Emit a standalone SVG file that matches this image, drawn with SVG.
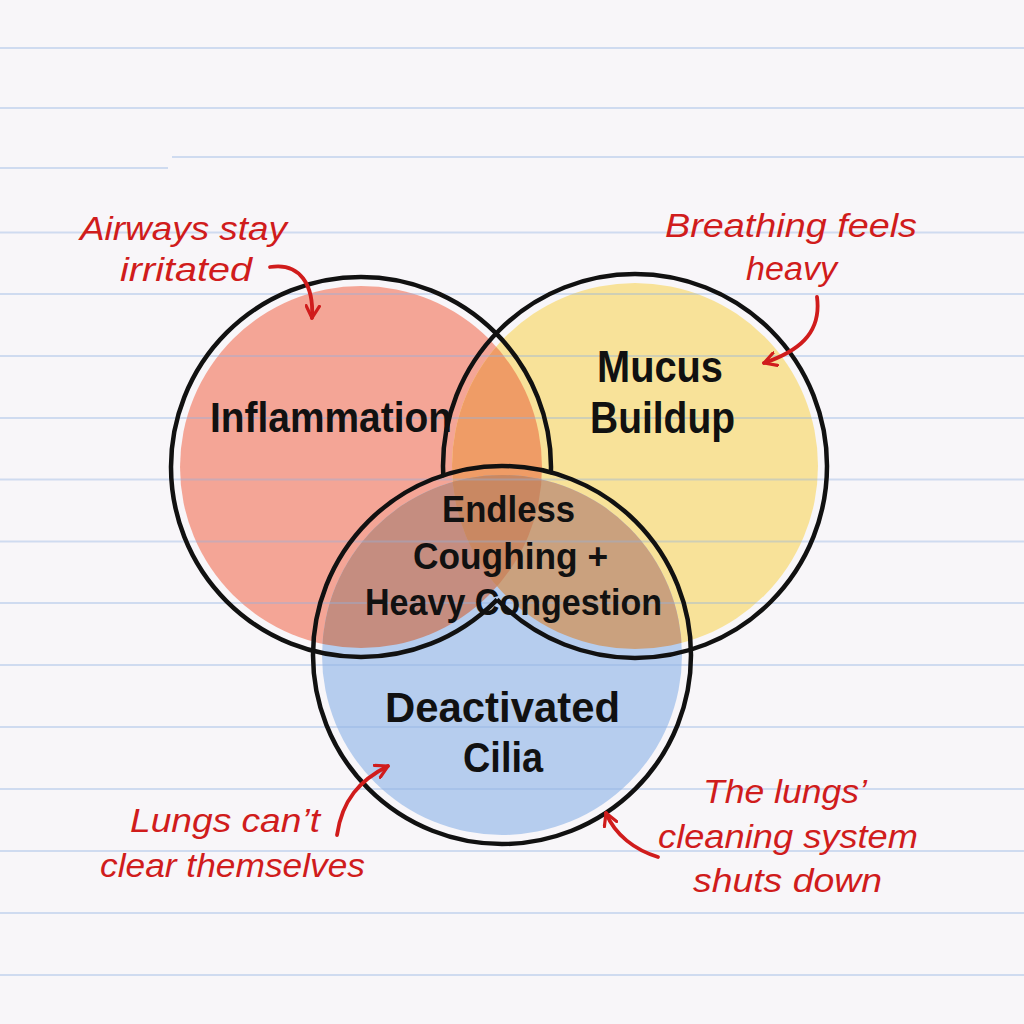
<svg xmlns="http://www.w3.org/2000/svg" width="1024" height="1024" viewBox="0 0 1024 1024">
<style>
.paper{stroke:#8fb2e3;stroke-width:1.8;opacity:0.38}
.outline{fill:none;stroke:#111;stroke-width:4.5}
.lbl{font-family:"Liberation Sans","Noto Sans",sans-serif;font-weight:bold;fill:#111}
.note{font-family:"Liberation Sans","Noto Sans",sans-serif;font-style:italic;fill:#d01c1c}
.arrow{fill:none;stroke:#d01c1c;stroke-width:3.8;stroke-linecap:round;marker-end:url(#head)}
</style>
<defs>
<marker id="head" viewBox="0 0 12 12" refX="10" refY="6" markerWidth="16" markerHeight="16" markerUnits="userSpaceOnUse" orient="auto">
<path d="M1,1 L10,6 L1,11" fill="none" stroke="#d01c1c" stroke-width="2.4" stroke-linecap="round" stroke-linejoin="round"/>
</marker>
<clipPath id="cR"><circle cx="361" cy="467" r="181"/></clipPath>
<clipPath id="cY"><circle cx="635" cy="466" r="183"/></clipPath>
<clipPath id="oR"><circle cx="361" cy="467" r="190"/></clipPath>
<clipPath id="oY"><circle cx="635" cy="466" r="192"/></clipPath>
<mask id="mRed" maskUnits="userSpaceOnUse" x="0" y="0" width="1024" height="1024">
<rect width="1024" height="1024" fill="#fff"/>
<g clip-path="url(#oY)"><circle cx="502" cy="655" r="187" fill="#000"/></g>
</mask>
<mask id="mYel" maskUnits="userSpaceOnUse" x="0" y="0" width="1024" height="1024">
<rect width="1024" height="1024" fill="#fff"/>
<g clip-path="url(#oR)"><circle cx="502" cy="655" r="187" fill="#000"/></g>
</mask>
</defs>
<rect width="1024" height="1024" fill="#f8f6f9"/>
<g id="fills">
<circle cx="361" cy="467" r="181" fill="#f4a596"/>
<circle cx="635" cy="466" r="183" fill="#f8e299"/>
<g clip-path="url(#cR)"><circle cx="635" cy="466" r="183" fill="#ef9c66"/></g>
<circle cx="502" cy="655" r="180" fill="#b6cdee"/>
<g clip-path="url(#cR)"><circle cx="502" cy="655" r="180" fill="#c58d80"/></g>
<g clip-path="url(#cY)"><circle cx="502" cy="655" r="180" fill="#caa17e"/></g>
<g clip-path="url(#cR)"><g clip-path="url(#cY)"><circle cx="502" cy="655" r="180" fill="#c98862"/></g></g>
</g>
<g id="paper-lines">
<line class="paper" x1="0" y1="48" x2="1024" y2="48"/>
<line class="paper" x1="0" y1="108" x2="1024" y2="108"/>
<line class="paper" x1="0" y1="168" x2="168" y2="168"/>
<line class="paper" x1="172" y1="157" x2="1024" y2="157"/>
<line class="paper" x1="0" y1="232.5" x2="1024" y2="232.5"/>
<line class="paper" x1="0" y1="294" x2="1024" y2="294"/>
<line class="paper" x1="0" y1="356" x2="1024" y2="356"/>
<line class="paper" x1="0" y1="418" x2="1024" y2="418"/>
<line class="paper" x1="0" y1="479.5" x2="1024" y2="479.5"/>
<line class="paper" x1="0" y1="541.5" x2="1024" y2="541.5"/>
<line class="paper" x1="0" y1="603" x2="1024" y2="603"/>
<line class="paper" x1="0" y1="665" x2="1024" y2="665"/>
<line class="paper" x1="0" y1="727" x2="1024" y2="727"/>
<line class="paper" x1="0" y1="789" x2="1024" y2="789"/>
<line class="paper" x1="0" y1="851" x2="1024" y2="851"/>
<line class="paper" x1="0" y1="913" x2="1024" y2="913"/>
<line class="paper" x1="0" y1="975" x2="1024" y2="975"/>
</g>
<g id="node-inflammation">
<circle class="outline" cx="361" cy="467" r="190" mask="url(#mRed)"/>
<text class="lbl" x="210" y="432" font-size="42" textLength="242" lengthAdjust="spacingAndGlyphs">Inflammation</text>
</g>
<g id="node-mucus">
<circle class="outline" cx="635" cy="466" r="192" mask="url(#mYel)"/>
<text class="lbl" x="597" y="382" font-size="44" textLength="126" lengthAdjust="spacingAndGlyphs">Mucus</text>
<text class="lbl" x="590" y="433" font-size="44" textLength="145" lengthAdjust="spacingAndGlyphs">Buildup</text>
</g>
<g id="node-cilia">
<circle class="outline" cx="502" cy="655" r="189"/>
<text class="lbl" x="385" y="722" font-size="43" textLength="235" lengthAdjust="spacingAndGlyphs">Deactivated</text>
<text class="lbl" x="463" y="772" font-size="43" textLength="80" lengthAdjust="spacingAndGlyphs">Cilia</text>
</g>
<g id="node-center">
<text class="lbl" x="442" y="522" font-size="36" textLength="133" lengthAdjust="spacingAndGlyphs">Endless</text>
<text class="lbl" x="413" y="569" font-size="36" textLength="195" lengthAdjust="spacingAndGlyphs">Coughing +</text>
<text class="lbl" x="365" y="615" font-size="36" textLength="297" lengthAdjust="spacingAndGlyphs">Heavy Congestion</text>
</g>
<g id="note-airways">
<text class="note" x="80" y="240" font-size="34" textLength="207" lengthAdjust="spacingAndGlyphs">Airways stay</text>
<text class="note" x="120" y="281" font-size="34" textLength="132" lengthAdjust="spacingAndGlyphs">irritated</text>
</g>
<g id="note-breathing">
<text class="note" x="665" y="237" font-size="34" textLength="252" lengthAdjust="spacingAndGlyphs">Breathing feels</text>
<text class="note" x="746" y="280" font-size="34" textLength="91" lengthAdjust="spacingAndGlyphs">heavy</text>
</g>
<g id="note-lungs">
<text class="note" x="130" y="832" font-size="34" textLength="190" lengthAdjust="spacingAndGlyphs">Lungs can’t</text>
<text class="note" x="100" y="877" font-size="34" textLength="265" lengthAdjust="spacingAndGlyphs">clear themselves</text>
</g>
<g id="note-cleaning">
<text class="note" x="703" y="803" font-size="34" textLength="164" lengthAdjust="spacingAndGlyphs">The lungs’</text>
<text class="note" x="658" y="848" font-size="34" textLength="260" lengthAdjust="spacingAndGlyphs">cleaning system</text>
<text class="note" x="693" y="892" font-size="34" textLength="189" lengthAdjust="spacingAndGlyphs">shuts down</text>
</g>
<g id="connectors">
<path class="arrow" d="M270,267 C300,262 314,285 312,318"/>
<path class="arrow" d="M817,297 C822,335 796,352 764,363"/>
<path class="arrow" d="M337,835 C342,800 360,780 388,766"/>
<path class="arrow" d="M658,857 C635,850 615,835 606,813"/>
</g>
</svg>
